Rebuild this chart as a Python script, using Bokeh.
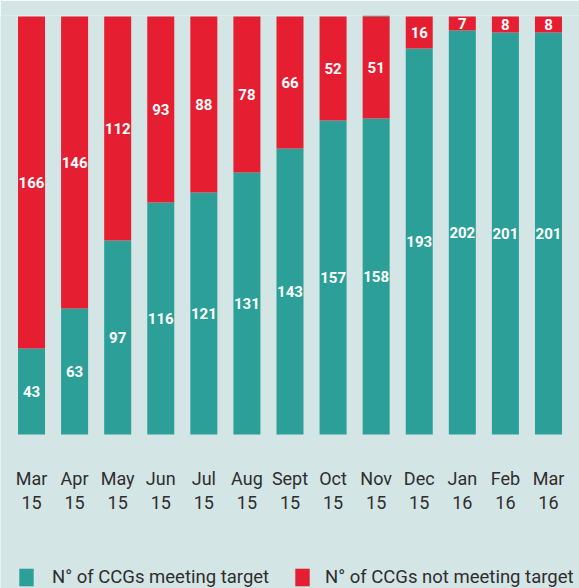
from bokeh.plotting import figure
from bokeh.models import ColumnDataSource, FactorRange, Legend, LegendItem, Range1d
from bokeh.core.properties import value
from bokeh.embed import file_html
from bokeh.resources import INLINE

months = ["Mar 15", "Apr 15", "May 15", "Jun 15", "Jul 15", "Aug 15", "Sept 15",
          "Oct 15", "Nov 15", "Dec 15", "Jan 16", "Feb 16", "Mar 16"]
tick_month = ["Mar", "Apr", "May", "Jun", "Jul", "Aug", "Sept",
              "Oct", "Nov", "Dec", "Jan", "Feb", "Mar"]
tick_year = ["15", "15", "15", "15", "15", "15", "15", "15", "15", "15", "16", "16", "16"]
meeting = [43, 63, 97, 116, 121, 131, 143, 157, 158, 193, 202, 201, 201]
not_meeting = [166, 146, 112, 93, 88, 78, 66, 52, 51, 16, 7, 8, 8]
other = [0, 0, 0, 0, 0, 0, 0, 0, 0.5, 0, 0, 0, 0]

TEAL = "#2ca098"
RED = "#e61e31"
GREY = "#666666"
BG = "#d4e5e5"
TXT = "#2e2e2e"
FONT = "Roboto"

src = ColumnDataSource(dict(
    month=months, meeting=meeting, not_meeting=not_meeting, other=other,
    y_meet=[m / 2 for m in meeting],
    y_not=[m + n / 2 for m, n in zip(meeting, not_meeting)],
    lab_meet=[str(m) for m in meeting],
    lab_not=[str(n) for n in not_meeting],
    tm=tick_month, ty=tick_year,
    y_tm=[-22] * len(months), y_ty=[-34] * len(months),
))

xr = FactorRange(*months, range_padding=0.22, range_padding_units="absolute")
p = figure(width=579, height=588, x_range=xr, y_range=Range1d(-77, 209.5),
           output_backend="svg", toolbar_location=None, y_axis_location=None,
           x_axis_location=None,
           min_border_left=0, min_border_right=0, min_border_top=15, min_border_bottom=0)
p.background_fill_color = BG
p.border_fill_color = BG
p.outline_line_color = None
p.xgrid.visible = False
p.ygrid.visible = False

rs = p.vbar_stack(["meeting", "not_meeting", "other"], x="month", width=0.627,
                  color=[TEAL, RED, GREY], line_color=None, source=src)

for ycol, tcol in (("y_meet", "lab_meet"), ("y_not", "lab_not")):
    p.text(x="month", y=ycol, text=tcol, source=src, text_color="white",
           text_font=value(FONT), text_font_style="bold", text_font_size="15px",
           text_align="center", text_baseline="middle")

for ycol, tcol in (("y_tm", "tm"), ("y_ty", "ty")):
    p.text(x="month", y=ycol, text=tcol, source=src, text_color=TXT,
           text_font=value(FONT), text_font_size="18px",
           text_align="center", text_baseline="middle")

def make_legend(label, renderer, x, standoff):
    return Legend(items=[LegendItem(label=label, renderers=[renderer])],
                  location=(x, 0), orientation="horizontal", glyph_width=18, glyph_height=22,
                  label_standoff=standoff, padding=0, margin=0, border_line_color=None,
                  background_fill_alpha=0, label_text_font=FONT, label_text_font_size="18.5px",
                  label_text_color=TXT, label_height=22, label_text_baseline="middle")

p.add_layout(make_legend("N° of CCGs meeting target", rs[0], 17, 17))
p.add_layout(make_legend("N° of CCGs not meeting target", rs[1], 293, 14))

open("out.html", "w").write(file_html(p, INLINE))
